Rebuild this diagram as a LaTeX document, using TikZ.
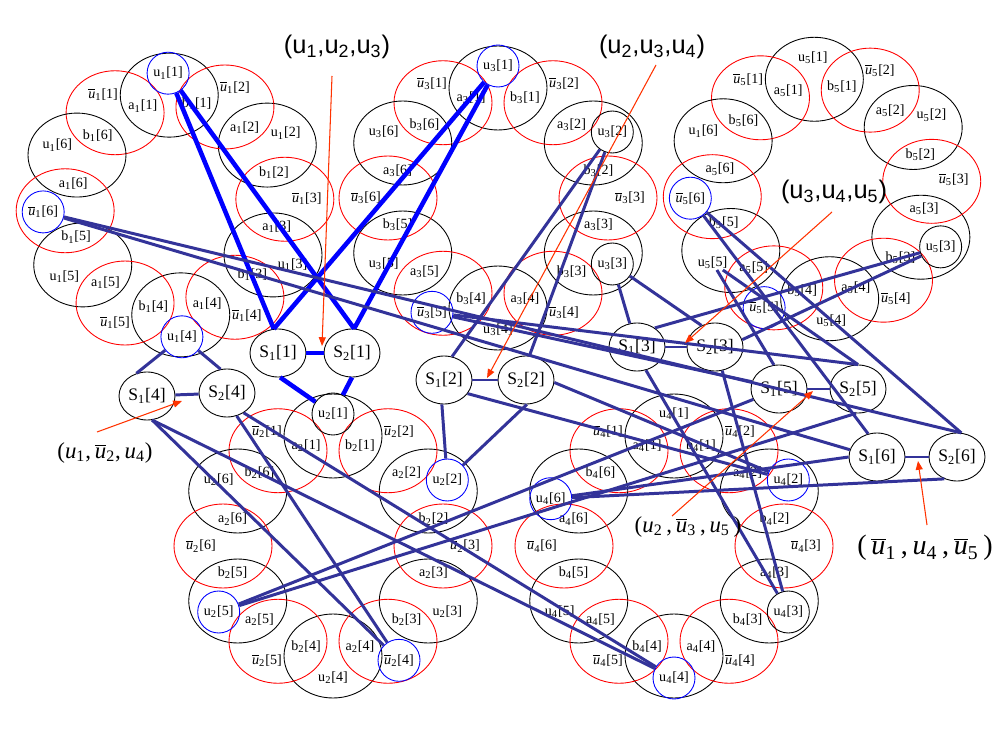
\documentclass[tikz,border=0pt]{standalone}
\usepackage{fontspec}
\setmainfont{Liberation Serif}
\setsansfont{Liberation Sans}
\usetikzlibrary{shapes.geometric,arrows.meta}
\definecolor{wireblue}{HTML}{333399}
\definecolor{hotblue}{HTML}{0000FF}
\definecolor{pointred}{HTML}{FF3300}
\newcommand{\nbar}{\ensuremath{\overline{\mbox{\itshape u}}}}
\newcommand{\sub}[1]{\textsubscript{#1}}

% one variable gadget: a ring of six black and six red ellipses
% #1 variable index, #2,#3 centre of the ring, #4 small turn of the ring
\newcommand{\gadget}[4]{%
  \foreach \k in {1,...,6}{%
    \pgfmathsetmacro{\tb}{90-60*(\k-1)+#4}%
    \pgfmathsetmacro{\tr}{120-60*(\k-1)+#4}%
    \draw[ringblack] ({#2+110*cos(\tb)},{#3-110*sin(\tb)}) ellipse [x radius=0.98cm,y radius=0.84cm];
    \draw[ringred] ({#2+110*cos(\tr)},{#3-110*sin(\tr)}) ellipse [x radius=0.98cm,y radius=0.84cm];
  }%
  \foreach \k in {1,...,6}{%
    \pgfmathsetmacro{\tb}{90-60*(\k-1)+#4}%
    \pgfmathsetmacro{\tr}{120-60*(\k-1)+#4}%
    \pgfmathtruncatemacro{\idx}{10*#1+\k}%
    \pgfmathsetmacro{\tu}{ifthenelse(\idx==46,159,\tb)}%
    \node[lab] (a-#1-\k) at ({#2+104*cos(\tb+15)},{#3-104*sin(\tb+15)}) {a\sub{#1}[\k]};
    \node[lab] (b-#1-\k) at ({#2+104*cos(\tb-15)},{#3-104*sin(\tb-15)}) {b\sub{#1}[\k]};
    \node[lab] (n-#1-\k) at ({#2+132*cos(\tr)},{#3-132*sin(\tr)}) {\nbar\sub{#1}[\k]};
    \node[lab] (u-#1-\k) at ({#2+132*cos(\tu)},{#3-132*sin(\tu)}) {u\sub{\ifnum\idx=56 1\else#1\fi}[\k]};
  }%
}

\begin{document}
\begin{tikzpicture}[x=0.02cm,y=-0.02cm,
  ringblack/.style={draw=black,line width=0.5pt},
  ringred/.style={draw=red,line width=0.5pt},
  lab/.style={font=\fontsize{8}{9}\selectfont,inner sep=0.5pt},
  dot/.style={circle,minimum size=0.84cm,inner sep=0pt,line width=0.5pt},
  bluedot/.style={dot,draw=blue},
  blackdot/.style={dot,draw=black},
  clausenode/.style={ellipse,draw,line width=0.5pt,minimum width=1.12cm,
    minimum height=0.96cm,inner sep=0pt,font=\fontsize{10}{12}\selectfont},
  wire/.style={draw=wireblue,line width=1.7pt},
  hot/.style={draw=hotblue,line width=2.6pt},
  pointer/.style={draw=pointred,line width=0.6pt,-{Triangle[length=5pt,width=4pt]}},
  sanslab/.style={font=\sffamily\fontsize{14.5}{16}\selectfont,inner sep=0pt},
  itlab/.style={font=\fontsize{13}{15}\selectfont,inner sep=0pt}]

\path[fill=white,use as bounding box] (0,0) rectangle (1000,746);

% variable gadgets
\gadget{1}{175}{205}{3}
\gadget{2}{333}{546}{0}
\gadget{3}{498}{198}{0}
\gadget{4}{674}{546}{0}
\gadget{5}{822}{189}{4}

% literal terminals
\node[bluedot]  (c-u-1-1) at (u-1-1) {};
\node[bluedot]  (c-u-1-4) at (u-1-4) {};
\node[bluedot]  (c-n-1-6) at (n-1-6) {};
\node[blackdot] (c-u-2-1) at (u-2-1) {};
\node[bluedot]  (c-u-2-2) at (u-2-2) {};
\node[bluedot]  (c-u-2-5) at (u-2-5) {};
\node[bluedot]  (c-n-2-4) at (n-2-4) {};
\node[bluedot]  (c-u-3-1) at (u-3-1) {};
\node[blackdot] (c-u-3-2) at (u-3-2) {};
\node[blackdot] (c-u-3-3) at (u-3-3) {};
\node[bluedot]  (c-n-3-5) at (n-3-5) {};
\node[bluedot]  (c-u-4-2) at (u-4-2) {};
\node[blackdot] (c-u-4-3) at (u-4-3) {};
\node[bluedot]  (c-u-4-4) at (u-4-4) {};
\node[bluedot]  (c-u-4-6) at (u-4-6) {};
\node[blackdot] (c-u-5-3) at (u-5-3) {};
\node[bluedot]  (c-n-5-5) at (n-5-5) {};
\node[bluedot]  (c-n-5-6) at (n-5-6) {};

% clause node pairs
\node[clausenode] (S1-1) at (278,353) {S\sub{1}[1]};
\node[clausenode] (S2-1) at (352,353) {S\sub{2}[1]};
\node[clausenode] (S1-2) at (444,380) {S\sub{1}[2]};
\node[clausenode] (S2-2) at (526,380) {S\sub{2}[2]};
\node[clausenode] (S1-3) at (637,347) {S\sub{1}[3]};
\node[clausenode] (S2-3) at (715,347) {S\sub{2}[3]};
\node[clausenode] (S1-4) at (147,396) {S\sub{1}[4]};
\node[clausenode] (S2-4) at (227,393) {S\sub{2}[4]};
\node[clausenode] (S1-5) at (779,389) {S\sub{1}[5]};
\node[clausenode] (S2-5) at (858,389) {S\sub{2}[5]};
\node[clausenode] (S1-6) at (877,457) {S\sub{1}[6]};
\node[clausenode] (S2-6) at (957,457) {S\sub{2}[6]};

% clause 1
\draw[hot] (c-u-1-1) -- (S1-1.100);
\draw[hot] (c-u-1-1) -- (S2-1.85);
\draw[hot] (c-u-3-1) -- (S1-1.100);
\draw[hot] (c-u-3-1) -- (S2-1.85);
\draw[hot] (S1-1.-85) -- (c-u-2-1);
\draw[hot] (S2-1.-90) -- (c-u-2-1);
\draw[hot] (S1-1) -- (S2-1);

% clause 2
\draw[wire] (S1-2.71) -- (c-u-3-2);
\draw[wire] (S2-2.82) -- (c-u-3-2);
\draw[wire] (S1-2.-95) -- (c-u-2-2);
\draw[wire] (S2-2.-88) -- (c-u-2-2);
\draw[wire] (S1-2.-30) -- (c-u-4-2);
\draw[wire] (S2-2.-5) -- (c-u-4-2);
\draw[wire] (S1-2) -- (S2-2);

% clause 3
\draw[wire] (c-u-3-3) -- (S1-3.107);
\draw[wire] (c-u-3-3) -- (S2-3.122);
\draw[wire] (c-u-5-3) -- (S1-3.47);
\draw[wire] (c-u-5-3) -- (S2-3.15);
\draw[wire] (S1-3.-69) -- (c-u-4-3);
\draw[wire] (S2-3.-73) -- (c-u-4-3);
\draw[wire] (S1-3) -- (S2-3);

% clause 4
\draw[wire] (c-u-1-4) -- (S1-4.115);
\draw[wire] (c-u-1-4) -- (S2-4.105);
\draw[wire] (S1-4.-78) -- (c-n-2-4);
\draw[wire] (S1-4.-78) -- (c-u-4-4);
\draw[wire] (S2-4.-67) -- (c-n-2-4);
\draw[wire] (S2-4.-50) -- (c-u-4-4);
\draw[wire] (S1-4) -- (S2-4);

% clause 5
\draw[wire] (c-u-2-5) -- (S1-5.-158);
\draw[wire] (c-u-2-5) -- (S2-5.-95);
\draw[wire] (c-n-3-5) -- (S1-5.165);
\draw[wire] (c-n-3-5) -- (S2-5.90);
\draw[wire] (u-5-5) -- (S1-5.102);
\draw[wire] (u-5-5) -- (S2-5.90);
\draw[wire] (S1-5) -- (S2-5);

% clause 6
\draw[wire] (c-n-1-6) -- (S1-6.165);
\draw[wire] (c-n-1-6) -- (S2-6.80);
\draw[wire] (c-u-4-6) -- (S1-6.180);
\draw[wire] (c-u-4-6) -- (S2-6.-120);
\draw[wire] (c-n-5-6) -- (S1-6.111);
\draw[wire] (c-n-5-6) -- (S2-6.80);
\draw[wire] (S1-6) -- (S2-6);

% clause captions
\node[sanslab] (k1) at (337,47) {(u\sub{1},u\sub{2},u\sub{3})};
\node[sanslab] (k2) at (652,47) {(u\sub{2},u\sub{3},u\sub{4})};
\node[sanslab] (k3) at (834,192) {(u\sub{3},u\sub{4},u\sub{5})};
\node[itlab] (k4) at (105,453) {(\textit{u}\sub{1},\,\nbar\sub{2},\,\textit{u}\sub{4})};
\node[itlab] (k5) at (688,527) {(\textit{u}\sub{2}\,,\,\nbar\sub{3}\,,\,\textit{u}\sub{5}\,)};
\node[itlab,font=\fontsize{16}{18}\selectfont] (k6) at (925,548) {(\,\nbar\sub{1}\,,\,\textit{u}\sub{4}\,,\,\nbar\sub{5}\,)};

% pointers from captions to clause links
\coordinate (p1s) at (332,76);  \coordinate (p1e) at (322,346);
\coordinate (p2s) at (656,65);  \coordinate (p2e) at (487,378);
\coordinate (p3s) at (832,212); \coordinate (p3e) at (685,343);
\coordinate (p4s) at (97,432);  \coordinate (p4e) at (182,401);
\coordinate (p5s) at (672,516); \coordinate (p5e) at (813,391);
\coordinate (p6s) at (927,525); \coordinate (p6e) at (918,461);
\draw[pointer] (p1s) -- (p1e);
\draw[pointer] (p2s) -- (p2e);
\draw[pointer] (p3s) -- (p3e);
\draw[pointer] (p4s) -- (p4e);
\draw[pointer] (p5s) -- (p5e);
\draw[pointer] (p6s) -- (p6e);
\end{tikzpicture}
\end{document}
